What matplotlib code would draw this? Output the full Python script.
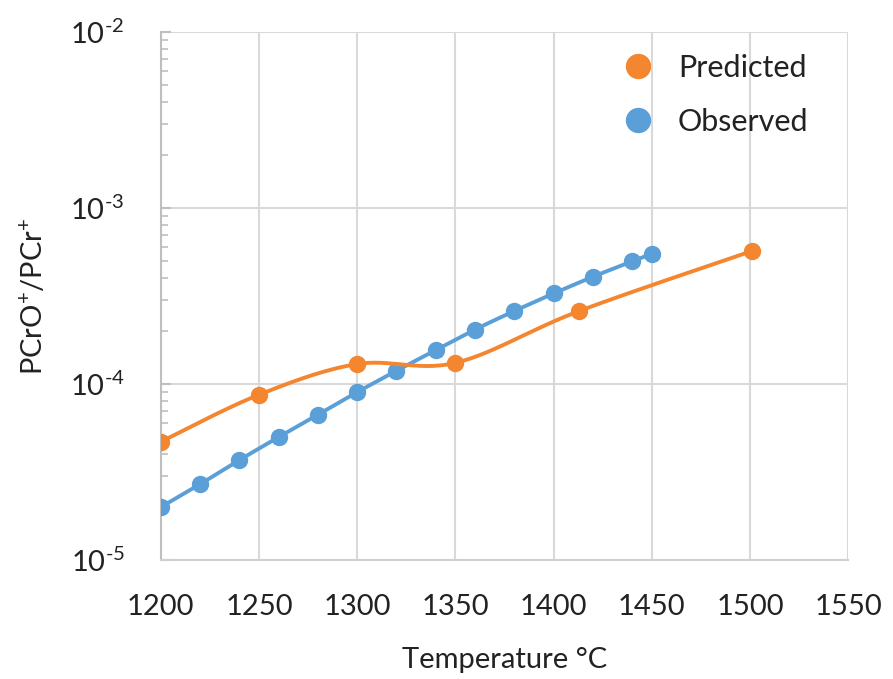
import numpy as np
import matplotlib
matplotlib.use("Agg")
from matplotlib import pyplot as plt
from matplotlib.ticker import FixedLocator, LogLocator, NullFormatter

# dane
pred_temp = [1200, 1250, 1300, 1350, 1413, 1501]
pred_val = [4.7e-5, 8.7e-5, 1.3e-4, 1.32e-4, 2.6e-4, 5.7e-4]

obs_temp = [1200, 1220, 1240, 1260, 1280, 1300, 1320, 1340, 1360, 1380, 1400, 1420, 1440, 1450]
obs_val = [2.0e-5, 2.7e-5, 3.7e-5, 5.0e-5, 6.7e-5, 9.0e-5, 1.19e-4, 1.56e-4, 2.04e-4,
           2.6e-4, 3.27e-4, 4.07e-4, 4.98e-4, 5.5e-4]

x_ticks = [1200, 1250, 1300, 1350, 1400, 1450, 1500, 1550]
y_ticks = [1e-5, 1e-4, 1e-3, 1e-2]
y_labels = [r"$\mathregular{10^{\text{-5}}}$", r"$\mathregular{10^{\text{-4}}}$",
            r"$\mathregular{10^{\text{-3}}}$", r"$\mathregular{10^{\text{-2}}}$"]

kolor_pred = "#F4862F"
kolor_obs = "#5A9FD8"


def wygladzenie(xs, ys, n=30):
    # wygladzona linia jak w Excelu (Catmull-Rom), w skali log
    x = np.array(xs, dtype=float)
    y = np.log10(np.array(ys, dtype=float))
    px = np.concatenate([[x[0]], x, [x[-1]]])
    py = np.concatenate([[y[0]], y, [y[-1]]])
    out_x, out_y = [], []
    t = np.linspace(0, 1, n)
    for i in range(1, len(px) - 2):
        p0 = np.array([px[i], py[i]])
        p3 = np.array([px[i + 1], py[i + 1]])
        p1 = p0 + (p3 - np.array([px[i - 1], py[i - 1]])) / 6
        p2 = p3 - (np.array([px[i + 2], py[i + 2]]) - p0) / 6
        b = ((1 - t) ** 3)[:, None] * p0 + (3 * (1 - t) ** 2 * t)[:, None] * p1 \
            + (3 * (1 - t) * t ** 2)[:, None] * p2 + (t ** 3)[:, None] * p3
        out_x.extend(b[:, 0])
        out_y.extend(b[:, 1])
    return np.array(out_x), 10 ** np.array(out_y)


plt.rcParams['font.family'] = ['Lato', 'DejaVu Sans']
plt.rcParams['mathtext.fontset'] = 'custom'
plt.rcParams['mathtext.rm'] = 'Lato'

fig = plt.figure(figsize=(8.93, 6.79), dpi=100)
ax = fig.add_axes([0.180, 0.175, 0.770, 0.778])

ox, oy = wygladzenie(obs_temp, obs_val)
ax.plot(ox, oy, color=kolor_obs, lw=2.8, zorder=3)
ax.plot(obs_temp, obs_val, 'o', color=kolor_obs, ms=11.5, zorder=4, label="Observed")

sx, sy = wygladzenie(pred_temp, pred_val)
ax.plot(sx, sy, color=kolor_pred, lw=2.8, zorder=5)
ax.plot(pred_temp, pred_val, 'o', color=kolor_pred, ms=11.5, zorder=6, label="Predicted")

ax.set_yscale('log')
ax.set_xlim(1200, 1550)
ax.set_ylim(1e-5, 1e-2)
ax.xaxis.set_major_locator(FixedLocator(x_ticks))
ax.set_yticks(y_ticks)
ax.set_yticklabels(y_labels)
ax.yaxis.set_minor_locator(LogLocator(base=10, subs=np.arange(2, 10)))
ax.yaxis.set_minor_formatter(NullFormatter())

ax.grid(True, which='major', color='#d9d9d9', lw=1.5, zorder=0)
ax.set_axisbelow(True)
for s in ['top', 'right']:
    ax.spines[s].set_visible(False)
ax.spines['left'].set_color('#bfbfbf')
ax.spines['bottom'].set_color('#d0d0d0')
ax.spines['left'].set_linewidth(1.5)
ax.spines['bottom'].set_linewidth(1.5)

ax.tick_params(axis='x', length=0, pad=24, labelsize=21, labelcolor='#222222')
ax.tick_params(axis='y', which='major', direction='in', length=7, width=1.5,
               color='#bfbfbf', pad=26, labelsize=21, labelcolor='#222222')
ax.tick_params(axis='y', which='minor', direction='in', length=5, width=1.2, color='#bfbfbf')

ax.set_xlabel("Temperature °C", fontsize=21, color='#222222', labelpad=20)
ax.set_ylabel(r"PCrO$^{+}$/PCr$^{+}$", fontsize=21, color='#222222', labelpad=16)

h, l = ax.get_legend_handles_labels()
ax.legend(h[::-1], l[::-1], loc='upper left', bbox_to_anchor=(0.632, 1.01), frameon=False,
          fontsize=22, handletextpad=0.8, labelspacing=0.85, markerscale=1.5,
          handlelength=1.0, labelcolor='#222222')

fig.savefig("out.png", dpi=100)
